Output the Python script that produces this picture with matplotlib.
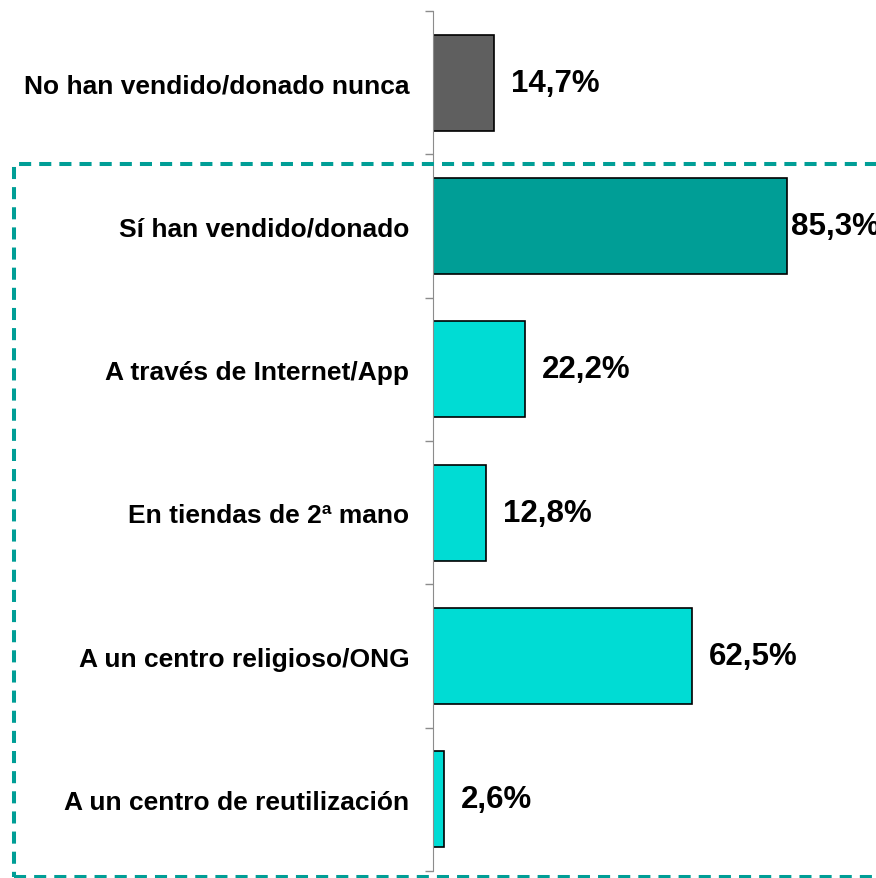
import matplotlib
matplotlib.use('Agg')
import matplotlib.pyplot as plt
from matplotlib.patches import Rectangle

categories = ['No han vendido/donado nunca', 'Sí han vendido/donado',
              'A través de Internet/App', 'En tiendas de 2ª mano',
              'A un centro religioso/ONG', 'A un centro de reutilización']
values = [14.7, 85.3, 22.2, 12.8, 62.5, 2.6]
labels = ['14,7%', '85,3%', '22,2%', '12,8%', '62,5%', '2,6%']
colors = ['#5f5f5f', '#009e96', '#00dcd4', '#00dcd4', '#00dcd4', '#00dcd4']

plt.rcParams['font.family'] = ['Liberation Sans', 'DejaVu Sans']

fig = plt.figure(figsize=(8.76, 8.79), dpi=100)
ax = fig.add_axes([433 / 876, 7 / 879, 443 / 876, 860 / 879])

y = list(range(len(values)))
ax.barh(y, values, height=0.67, color=colors, edgecolor='black', linewidth=1.2)
ax.set_ylim(len(values) - 0.5, -0.5)
ax.set_xlim(0, 443 / 4.15)

for i, (v, lab) in enumerate(zip(values, labels)):
    off = 3 if v > 80 else 12
    ax.annotate(lab, (v, i), xytext=(off, 0), textcoords='offset points',
                va='center', ha='left', fontsize=22.5, fontweight='bold',
                annotation_clip=False)

for s in ['top', 'right', 'bottom']:
    ax.spines[s].set_visible(False)
ax.spines['left'].set_color('#8c8c8c')
ax.set_xticks([])
ax.set_yticks(y)
ax.set_yticklabels(categories, fontsize=19, fontweight='bold')
ax.tick_params(axis='y', which='major', length=0, pad=17)
ax.set_yticks([i - 0.5 for i in range(len(values) + 1)], minor=True)
ax.tick_params(axis='y', which='minor', length=6, color='#8c8c8c', width=1)

# dashed box around the "yes" group
box = Rectangle((14 / 876, 1.5 / 879), 880 / 876, (879 - 165 - 1.5) / 879,
                transform=fig.transFigure, fill=False, edgecolor='#009e96',
                linewidth=2.9, linestyle=(0, (3, 2)), clip_on=False)
fig.patches.append(box)

fig.savefig('out.png', dpi=100)
